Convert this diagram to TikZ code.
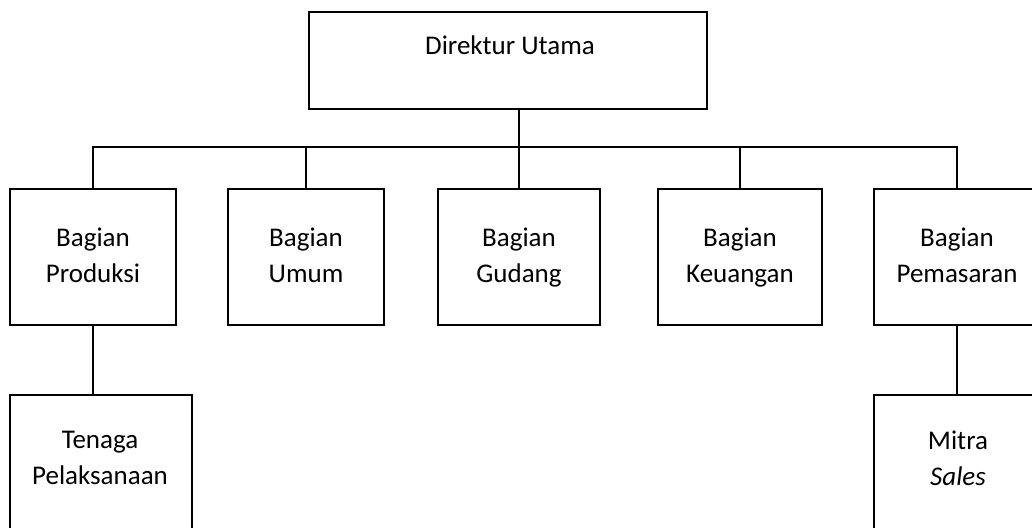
\documentclass[tikz,border=0pt]{standalone}
\usepackage{fontspec}
\setmainfont{Carlito}
\begin{document}
\begin{tikzpicture}[x=1pt,y=-1pt,
  box/.style={draw=black,line width=2.3pt,rectangle,inner sep=0pt,align=center,
    font=\fontsize{27}{36}\selectfont},
  txt/.style={inner sep=0pt,align=center,font=\fontsize{27}{36}\selectfont},
  conn/.style={draw=black,line width=2.3pt}]
\useasboundingbox (0,0) rectangle (1032,527);
\clip (0,0) rectangle (1032,527);
% top
\node[box,minimum width=398pt,minimum height=97pt] (dir) at (508,60.5) {};
\node[txt,anchor=base] (dirt) at (510,55) {Direktur Utama};
% second row
\node[box,minimum width=166pt,minimum height=136pt] (prod) at (93,257) {\strut Bagian\\\strut Produksi};
\node[box,minimum width=156pt,minimum height=136pt] (umum) at (306,257) {\strut Bagian\\\strut Umum};
\node[box,minimum width=162pt,minimum height=136pt] (gud) at (519,257) {\strut Bagian\\\strut Gudang};
\node[box,minimum width=164pt,minimum height=136pt] (keu) at (740,257) {\strut Bagian\\\strut Keuangan};
\node[box,minimum width=166pt,minimum height=136pt] (pem) at (957,257) {\strut Bagian\\\strut Pemasaran};
% third row
\node[box,minimum width=182pt,minimum height=170pt] (ten) at (101,480) {};
\node[txt] (tent) at (100,459.5) {\strut Tenaga\\\strut Pelaksanaan};
\node[box,minimum width=166pt,minimum height=170pt] (mit) at (957,480) {};
\node[txt] (mitt) at (958,460) {\strut Mitra\\\strut\textit{Sales}};
% connectors
\coordinate (bus) at (0,147);
\draw[conn] (gud.north |- dir.south) -- (gud.north);
\draw[conn] (prod.north) -- (prod.north |- bus) -- (pem.north |- bus) -- (pem.north);
\draw[conn] (umum.north |- bus) -- (umum.north);
\draw[conn] (keu.north |- bus) -- (keu.north);
\draw[conn] (prod.south) -- (prod.south |- ten.north);
\draw[conn] (pem.south) -- (mit.north);
\end{tikzpicture}
\end{document}
